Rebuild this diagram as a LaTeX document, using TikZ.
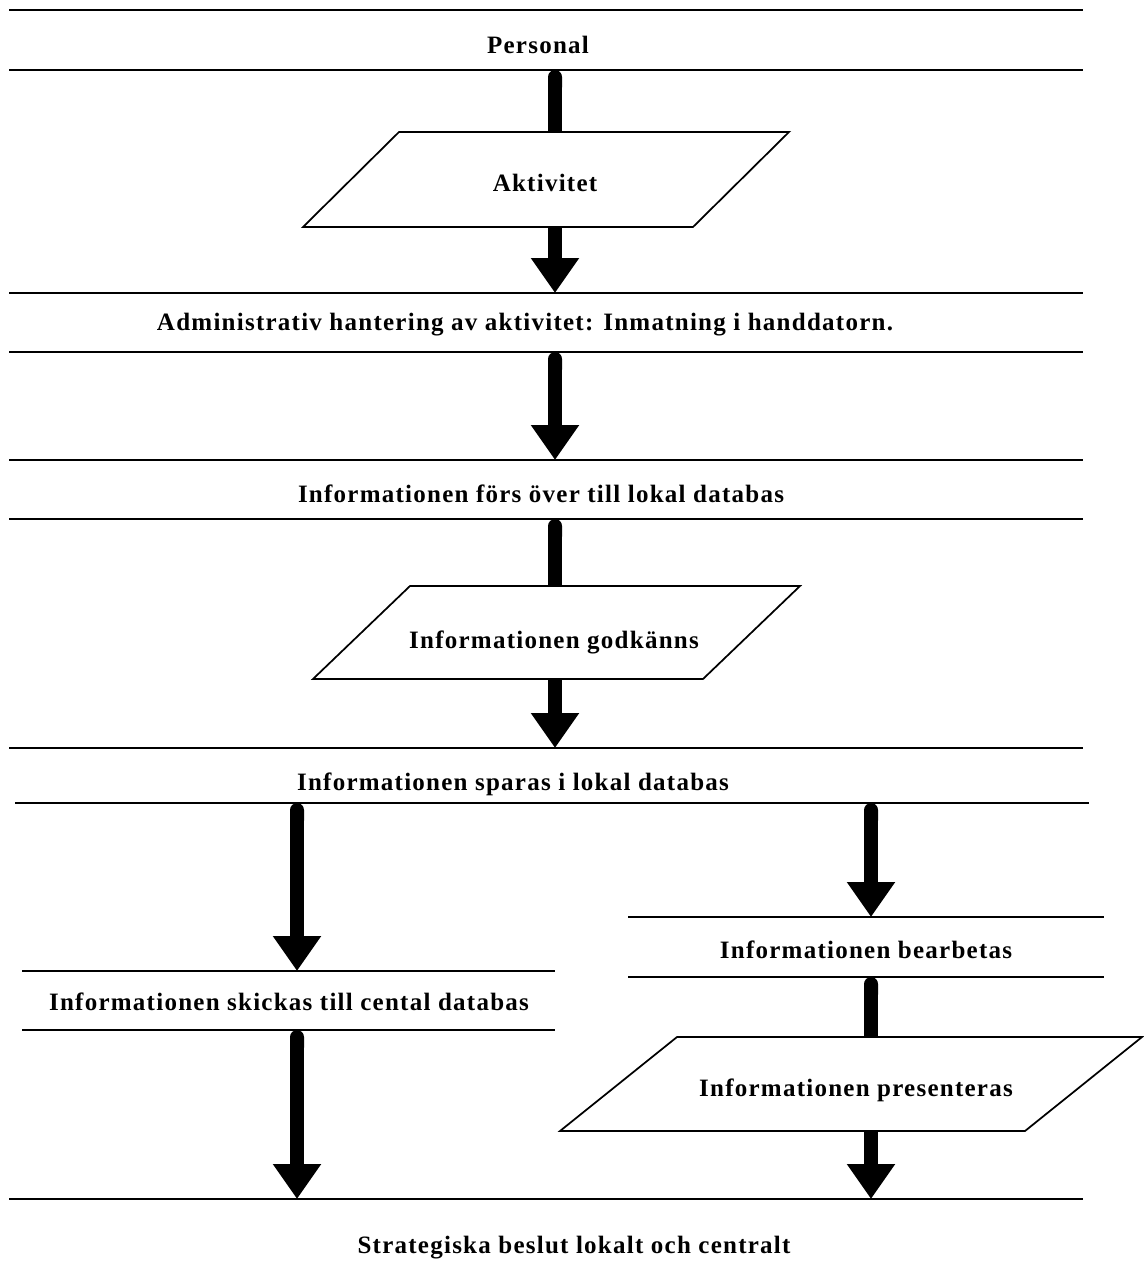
\documentclass[tikz,border=0pt]{standalone}
\usepackage{fontspec}
\newfontfamily\flowfont{Liberation Serif}[LetterSpace=5.0]
\usetikzlibrary{arrows.meta}

% horizontal rules above and below a band node
\newcommand\bandrules[1]{%
  \draw[rule] (#1.north west) -- (#1.north east) (#1.south west) -- (#1.south east);}
% slanted box outline drawn on a rectangular node; #2 is the horizontal slant
\newcommand\slantbox[2]{%
  \draw[outline] ([xshift=#2]#1.north west) -- (#1.north east)
    -- ([xshift=-#2]#1.south east) -- (#1.south west) -- cycle;}

\begin{document}
\begin{tikzpicture}[x=0.75pt,y=-0.75pt,
  band/.style={inner sep=0pt, outer sep=0pt},
  rule/.style={line width=1.5pt},
  outline/.style={line width=1.3pt, line join=miter},
  lbl/.style={font=\flowfont\bfseries\fontsize{18.75pt}{22pt}\selectfont,
    inner sep=0pt, text height=12.4pt, text depth=0pt},
  shaft/.style={line width=10.5pt, line cap=butt},
  shaftin/.style={shaft, arrows={Round Cap[]-}},
  shafthead/.style={shaft, arrows={-Triangle[width=34.5pt,length=26.25pt]}},
  shaftfull/.style={shaft, arrows={Round Cap[]-Triangle[width=34.5pt,length=26.25pt]}}]
\useasboundingbox[fill=white] (0,0) rectangle (1143,1263);

% arrow columns
\coordinate (cM) at (555,0);
\coordinate (cL) at (297,0);
\coordinate (cR) at (871,0);

% Personal
\node[band, minimum width=805.5pt, minimum height=45pt] (b1) at (546,40) {};
\bandrules{b1}
\node[lbl] (t1) at (538,45) {Personal};

% Aktivitet
\node[band, minimum width=364.5pt, minimum height=71.25pt] (p1) at (546,179.5) {};
\slantbox{p1}{72pt}
\node[lbl] (tp1) at (545,183) {Aktivitet};

% Administrativ hantering
\node[band, minimum width=805.5pt, minimum height=44.25pt] (b2) at (546,322.5) {};
\bandrules{b2}
\node[lbl] (t2) at (525,322) {Administrativ hantering av aktivitet: Inmatning i handdatorn.};

% Overforing till lokal databas
\node[band, minimum width=805.5pt, minimum height=44.25pt] (b3) at (546,489.5) {};
\bandrules{b3}
\node[lbl] (t3) at (541,494) {Informationen förs över till lokal databas};

% Godkannande
\node[band, minimum width=365.25pt, minimum height=69.75pt] (p2) at (556.5,632.5) {};
\slantbox{p2}{72.75pt}
\node[lbl] (tp2) at (554,640) {Informationen godkänns};

% Lagring i lokal databas
\node[band, minimum width=805.5pt, minimum height=41.25pt] (b4) at (546,775.5) {};
\draw[rule] (b4.north west) -- (b4.north east);
\draw[rule] ([xshift=4.5pt]b4.south west) -- ([xshift=4.5pt]b4.south east);
\node[lbl] (t4) at (513,782) {Informationen sparas i lokal databas};

% Skickas till central databas
\node[band, minimum width=399.75pt, minimum height=44.25pt] (b5) at (288.5,1000.5) {};
\bandrules{b5}
\node[lbl] (t5) at (289,1002) {Informationen skickas till cental databas};

% Bearbetning
\node[band, minimum width=357pt, minimum height=45pt] (b6) at (866,947) {};
\bandrules{b6}
\node[lbl] (t6) at (866,950) {Informationen bearbetas};

% Presentation
\node[band, minimum width=436.5pt, minimum height=70.5pt] (p3) at (851,1084) {};
\slantbox{p3}{87.75pt}
\node[lbl] (tp3) at (856,1088) {Informationen presenteras};

% Strategiska beslut
\node[band, minimum width=805.5pt, minimum height=54pt] (b7) at (546,1235) {};
\draw[rule] (b7.north west) -- (b7.north east);
\node[lbl] (t7) at (574,1245) {Strategiska beslut lokalt och centralt};

% flow arrows
\draw[shaftin]   (b1.south -| cM) -- (p1.north -| cM);
\draw[shafthead] (p1.south -| cM) -- (b2.north -| cM);
\draw[shaftfull] (b2.south -| cM) -- (b3.north -| cM);
\draw[shaftin]   (b3.south -| cM) -- (p2.north -| cM);
\draw[shafthead] (p2.south -| cM) -- (b4.north -| cM);
\draw[shaftfull] (b4.south -| cL) -- (b5.north -| cL);
\draw[shaftfull] (b4.south -| cR) -- (b6.north -| cR);
\draw[shaftfull] (b5.south -| cL) -- (b7.north -| cL);
\draw[shaftin]   (b6.south -| cR) -- (p3.north -| cR);
\draw[shafthead] (p3.south -| cR) -- (b7.north -| cR);
\end{tikzpicture}
\end{document}
